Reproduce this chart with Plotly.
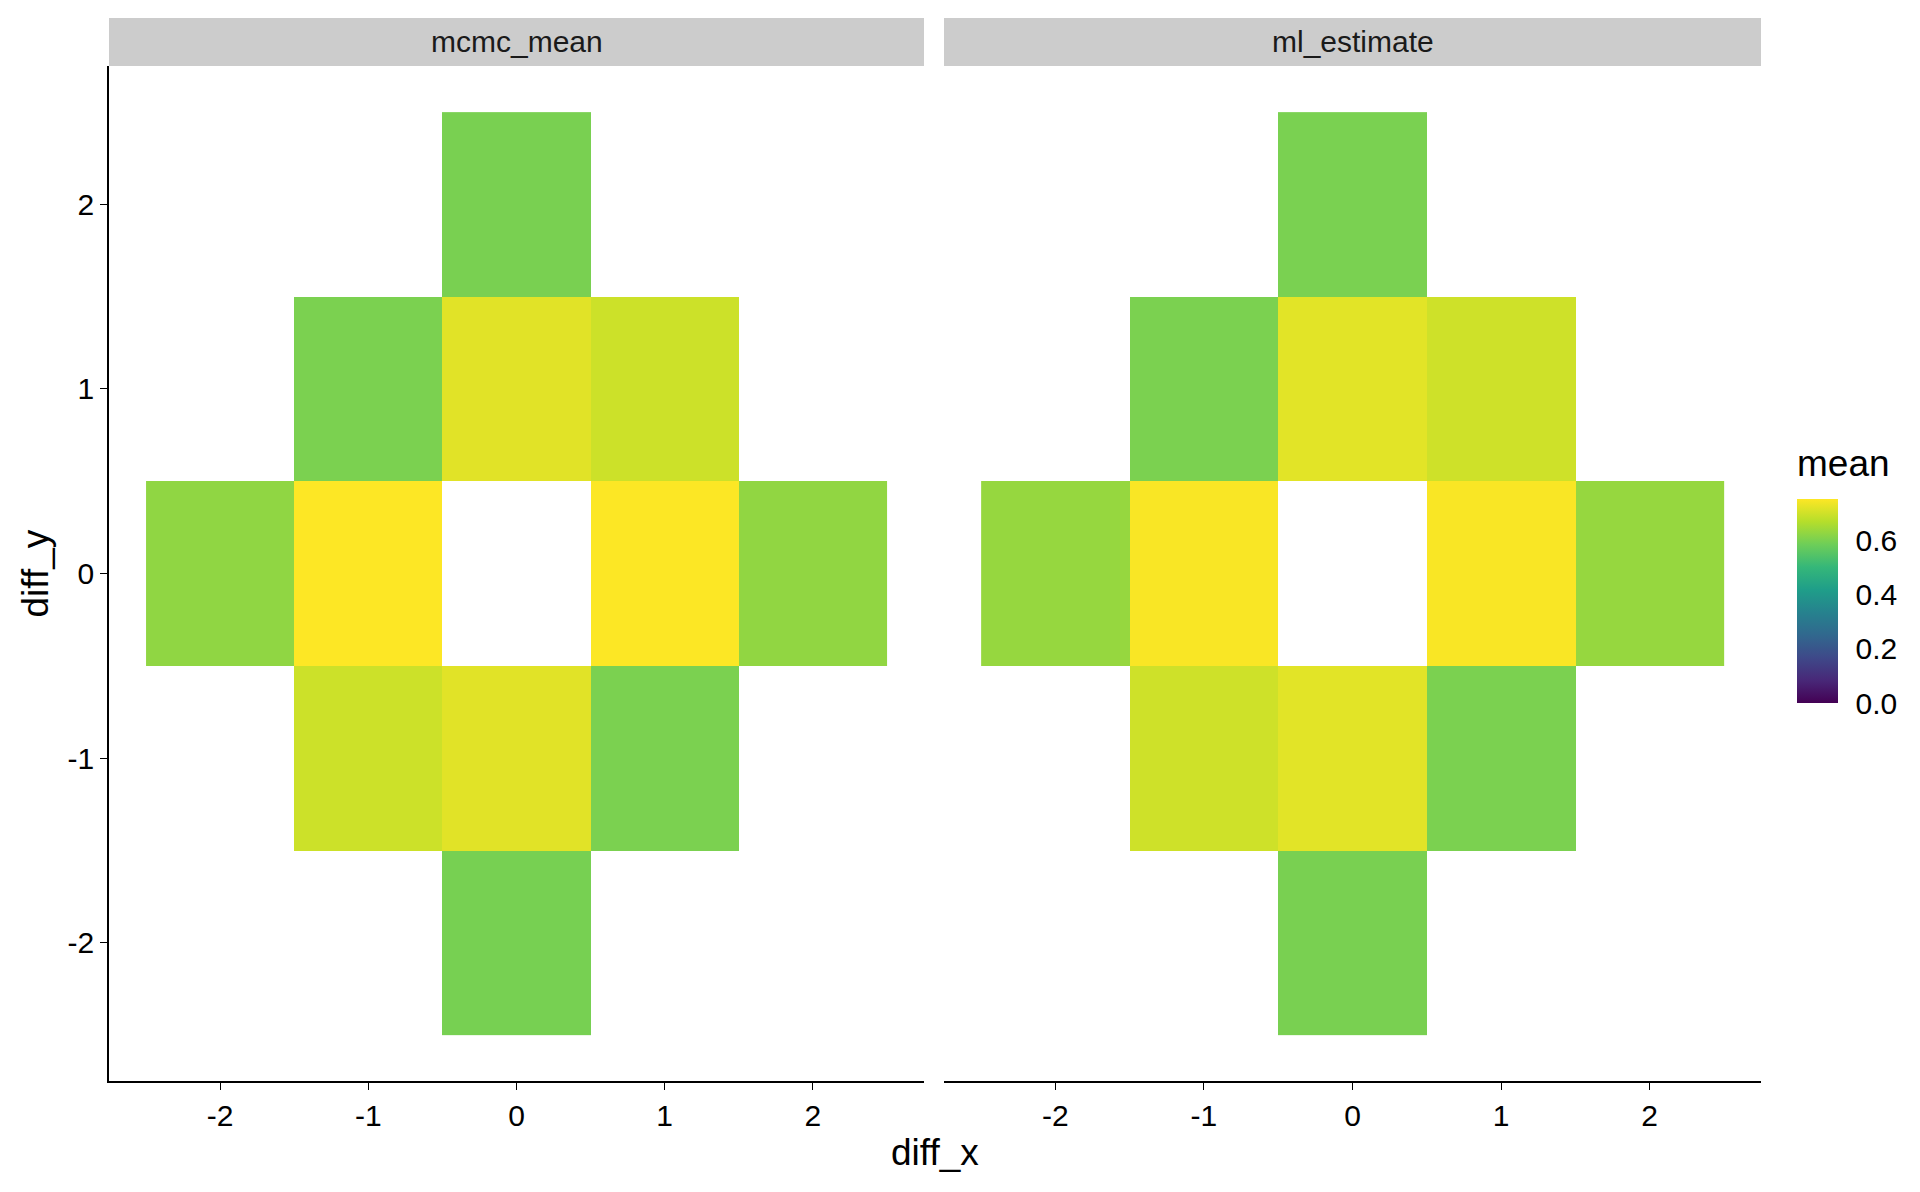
import plotly.graph_objects as go

# ---- data ----
diff_x = [0, -1, 0, 1, -2, -1, 1, 2, -1, 0, 1, 0]
diff_y = [2, 1, 1, 1, 0, 0, 0, 0, -1, -1, -1, -2]
mcmc_mean = [0.600, 0.602, 0.722, 0.698, 0.627, 0.755, 0.754, 0.628, 0.698, 0.722, 0.602, 0.598]
ml_estimate = [0.601, 0.603, 0.723, 0.700, 0.634, 0.750, 0.750, 0.634, 0.700, 0.723, 0.603, 0.600]
panels = ["mcmc_mean", "ml_estimate"]
grid = [-2, -1, 0, 1, 2]
tick_vals = [-2, -1, 0, 1, 2]
tick_text = ["-2", "-1", "0", "1", "2"]
cbar_vals = [0.0, 0.2, 0.4, 0.6]
cbar_text = ["0.0", "0.2", "0.4", "0.6"]

W, H = 1920, 1192
FONT = "Liberation Sans, Arial, Helvetica, sans-serif"
TICK_SIZE = 30
TITLE_SIZE = 37
CMIN, CMAX = 0, 0.755


def build_z(values):
    lookup = {(x, y): v for x, y, v in zip(diff_x, diff_y, values)}
    return [[lookup.get((x, y)) for x in grid] for y in grid]


fig = go.Figure()
for i, vals in enumerate([mcmc_mean, ml_estimate]):
    fig.add_trace(go.Heatmap(
        x=grid, y=grid, z=build_z(vals),
        coloraxis="coloraxis",
        xaxis="x" if i == 0 else "x2", yaxis="y",
        hoverongaps=False,
    ))

# panel geometry in pixels
px_l1, px_r1 = 109, 924
px_l2, px_r2 = 944, 1761
py_top, py_bot = 66, 1081
strip_top = 18

xd1 = [px_l1 / W, px_r1 / W]
xd2 = [px_l2 / W, px_r2 / W]
yd = [1 - py_bot / H, 1 - py_top / H]

# colorbar geometry in pixels
cb_left, cb_thick = 1797, 41
cb_top, cb_bot = 499, 703

axis_common = dict(
    range=[-2.75, 2.75], tickvals=tick_vals, ticktext=tick_text,
    showgrid=False, zeroline=False, showline=True, linecolor="black",
    linewidth=1.5, ticks="outside", ticklen=7, tickwidth=1.4, tickcolor="black",
    tickfont=dict(family=FONT, size=TICK_SIZE, color="black"),
)

fig.update_layout(
    width=W, height=H,
    margin=dict(l=0, r=0, t=0, b=0),
    paper_bgcolor="white", plot_bgcolor="white",
    font=dict(family=FONT, color="black"),
    xaxis=dict(domain=xd1, anchor="y", **axis_common),
    xaxis2=dict(domain=xd2, anchor="y", **axis_common),
    yaxis=dict(domain=yd, anchor="x", **axis_common),
    coloraxis=dict(
        colorscale="Viridis", cmin=CMIN, cmax=CMAX,
        colorbar=dict(
            x=cb_left / W, xanchor="left", xpad=0, ypad=0,
            y=1 - (cb_top + cb_bot) / 2 / H, yanchor="middle",
            len=(cb_bot - cb_top) / H, lenmode="fraction",
            thickness=cb_thick, thicknessmode="pixels",
            outlinewidth=0,
            tickvals=cbar_vals, ticktext=cbar_text,
            ticks="outside", ticklen=12, tickcolor="rgba(255,255,255,0)",
            tickfont=dict(family=FONT, size=TICK_SIZE, color="black"),
        ),
    ),
    showlegend=False,
)

# white inner tick marks on the colour bar (ggplot style)
for v in cbar_vals:
    ypix = cb_bot - (v - CMIN) / (CMAX - CMIN) * (cb_bot - cb_top)
    yp = 1 - ypix / H
    for x0, x1 in [(cb_left, cb_left + 8), (cb_left + cb_thick - 8, cb_left + cb_thick)]:
        fig.add_shape(type="line", xref="paper", yref="paper",
                      x0=x0 / W, x1=x1 / W, y0=yp, y1=yp,
                      line=dict(color="white", width=1.2), layer="above")

# colorbar title
fig.add_annotation(xref="paper", yref="paper", x=1795 / W, y=1 - 463 / H,
                   text="mean", showarrow=False,
                   font=dict(family=FONT, size=TITLE_SIZE, color="black"),
                   xanchor="left", yanchor="middle")

# strips
for (l, r), name in zip([(px_l1, px_r1), (px_l2, px_r2)], panels):
    fig.add_shape(type="rect", xref="paper", yref="paper",
                  x0=l / W, x1=r / W, y0=1 - py_top / H, y1=1 - strip_top / H,
                  fillcolor="#CCCCCC", line=dict(width=0), layer="below")
    fig.add_annotation(xref="paper", yref="paper",
                       x=(l + r) / 2 / W, y=1 - (py_top + strip_top) / 2 / H,
                       text=name, showarrow=False,
                       font=dict(family=FONT, size=TICK_SIZE, color="#1A1A1A"),
                       xanchor="center", yanchor="middle")

# axis titles
fig.add_annotation(xref="paper", yref="paper",
                   x=(px_l1 + px_r2) / 2 / W, y=1 - 1152 / H,
                   text="diff_x", showarrow=False,
                   font=dict(family=FONT, size=TITLE_SIZE, color="black"),
                   xanchor="center", yanchor="middle")
fig.add_annotation(xref="paper", yref="paper",
                   x=35 / W, y=1 - (py_top + py_bot) / 2 / H,
                   text="diff_y", showarrow=False, textangle=-90,
                   font=dict(family=FONT, size=TITLE_SIZE, color="black"),
                   xanchor="center", yanchor="middle")

fig.write_html("out.html")
